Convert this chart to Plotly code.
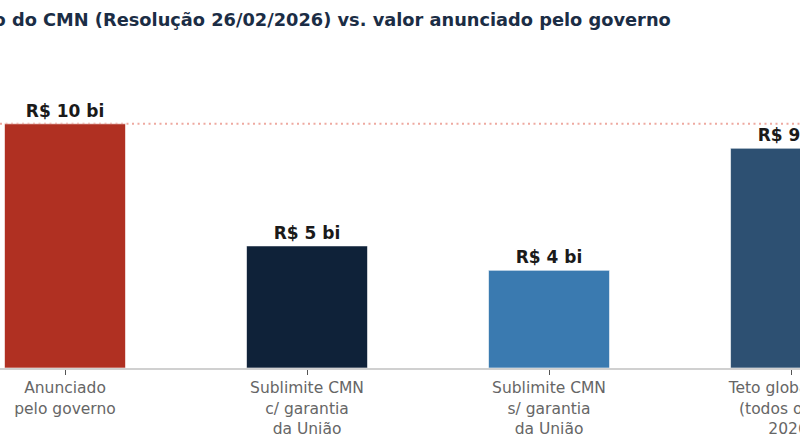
import plotly.graph_objects as go

# Dados (R$ bilhões)
categorias = [
    "Anunciado<br>pelo governo",
    "Sublimite CMN<br>c/ garantia<br>da União",
    "Sublimite CMN<br>s/ garantia<br>da União",
    "Teto global CMN<br>(todos os fins<br>2026)",
]
valores = [10, 5, 4, 9]
rotulos = ["R$ 10 bi", "R$ 5 bi", "R$ 4 bi", "R$ 9 bi"]
cores = ["#b03022", "#0f2239", "#3a7ab0", "#2d5072"]
valor_anunciado = 10

titulo = ("Limite de contratação do CMN (Resolução 26/02/2026) "
          "vs. valor anunciado pelo governo")


def build_figure():
    fig = go.Figure()

    fig.add_trace(go.Bar(
        x=list(range(len(categorias))),
        y=valores,
        marker=dict(color=cores, line=dict(color="white", width=0.6)),
        text=rotulos,
        texttemplate="<b>%{text}</b>",
        textposition="outside",
        textfont=dict(family="DejaVu Sans", size=17, color="#1a1a1a"),
        cliponaxis=False,
        hoverinfo="skip",
    ))

    # linha de referência no valor anunciado
    fig.add_shape(
        type="line", xref="paper", x0=0, x1=1,
        yref="y", y0=valor_anunciado, y1=valor_anunciado,
        line=dict(color="#eea9a0", width=2, dash="2px,3.5px"),
        layer="below",
    )

    fig.add_annotation(
        text="<b>" + titulo + "</b>",
        xref="paper", yref="paper", x=0.841, y=1.188,
        xanchor="right", yanchor="middle", showarrow=False,
        font=dict(family="DejaVu Sans", size=17.8, color="#1b2d45"),
    )

    fig.update_layout(
        width=800, height=445,
        margin=dict(l=0, r=0, t=75, b=77),
        paper_bgcolor="white",
        plot_bgcolor="white",
        bargap=0.5,
        showlegend=False,
        font=dict(family="DejaVu Sans"),
        xaxis=dict(
            tickmode="array",
            tickvals=list(range(len(categorias))),
            ticktext=categorias,
            range=[-0.2686, 3.037],
            showline=True, linecolor="#d0d0d0", linewidth=1.5,
            ticks="outside", ticklen=5, tickcolor="#555555", tickwidth=1,
            tickfont=dict(family="DejaVu Sans", size=15.5, color="#666666"),
            ticklabeloverflow="allow",
            automargin=False,
            showgrid=False, zeroline=False,
        ),
        yaxis=dict(
            range=[0, 12],
            visible=False,
            automargin=False,
            showgrid=False, zeroline=False,
        ),
    )
    return fig


def main():
    fig = build_figure()
    # sem margem na página, o gráfico começa no canto da janela
    fig.write_html(
        "out.html",
        config={"displayModeBar": False},
        post_script="document.body.style.margin='0';",
    )


if __name__ == "__main__":
    main()
